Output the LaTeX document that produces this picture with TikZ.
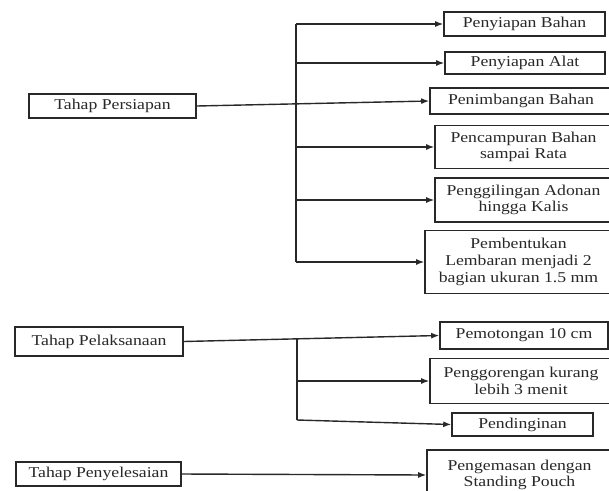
\documentclass[tikz,border=0pt]{standalone}
\usepackage{fontspec}
\setmainfont{Liberation Serif}[FakeStretch=1.18]
\usetikzlibrary{arrows.meta}
\definecolor{garis}{RGB}{40,40,40}

\begin{document}
\begin{tikzpicture}[x=1pt,y=-1pt,
	kotak/.style={draw=garis,line width=1.6pt,text=garis,align=center,inner sep=0pt,font=\fontsize{15}{16.7}\selectfont},
	panah/.style={-{Latex[length=8pt,width=6pt]},line width=1.4pt,draw=garis}]
	\clip (0,0) rectangle (609,490);
	\fill[white] (0,0) rectangle (609,490);
	% tahap persiapan
	\node(tp1) at (112.5,106)[kotak,minimum width=167pt,minimum height=24pt]{Tahap Persiapan};
	\node(b1) at (524.5,24)[kotak,minimum width=161pt,minimum height=24pt]{Penyiapan Bahan};
	\node(b2) at (525,63)[kotak,minimum width=160pt,minimum height=22pt]{Penyiapan Alat};
	\node(b3) at (521,101)[kotak,minimum width=182pt,minimum height=26pt]{Penimbangan Bahan};
	\node(b4) at (523.5,147)[kotak,minimum width=177pt,minimum height=43pt]{Pencampuran Bahan\\sampai Rata};
	\node(b5) at (523.5,200)[kotak,minimum width=177pt,minimum height=44pt]{Penggilingan Adonan\\hingga Kalis};
	\node(b6) at (518.5,262)[kotak,minimum width=187pt,minimum height=63pt]{Pembentukan\\Lembaran menjadi 2\\bagian ukuran 1.5 mm};
	\coordinate(v1a) at (296,24);
	\coordinate(v1b) at (296,262);

	\draw[garis,line width=1.4pt](v1a) -- (v1b);
	\draw[panah](v1a) -- (b1.west);
	\draw[panah](b2.west -| v1a) -- (b2.west);
	\draw[panah](tp1.east) -- (b3.west);
	\draw[panah](b4.west -| v1a) -- (b4.west);
	\draw[panah](b5.west -| v1a) -- (b5.west);
	\draw[panah](v1b) -- (b6.west);

	% tahap pelaksanaan
	\node(tp2) at (99,341.5)[kotak,minimum width=168pt,minimum height=29pt]{Tahap Pelaksanaan};
	\node(c1) at (524,335.5)[kotak,minimum width=168pt,minimum height=27pt]{Pemotongan 10 cm};
	\node(c2) at (521,381)[kotak,minimum width=182pt,minimum height=45pt]{Penggorengan kurang\\lebih 3 menit};
	\node(c3) at (522.5,424.5)[kotak,minimum width=141pt,minimum height=23pt]{Pendinginan};
	\coordinate(v2a) at (297,339);
	\coordinate(v2b) at (297,420);

	\draw[panah](tp2.east) -- (c1.west);
	\draw[garis,line width=1.4pt](v2a) -- (v2b);
	\draw[panah](c2.west -| v2a) -- (c2.west);
	\draw[panah](v2b) -- (c3.west);

	% tahap penyelesaian
	\node(tp3) at (98.5,474)[kotak,minimum width=165pt,minimum height=24pt]{Tahap Penyelesaian};
	\node(d1) at (519.5,475)[kotak,minimum width=185pt,minimum height=50pt]{Pengemasan dengan\\Standing Pouch};

	\draw[panah](tp3.east) -- (d1.west);
\end{tikzpicture}
\end{document}
